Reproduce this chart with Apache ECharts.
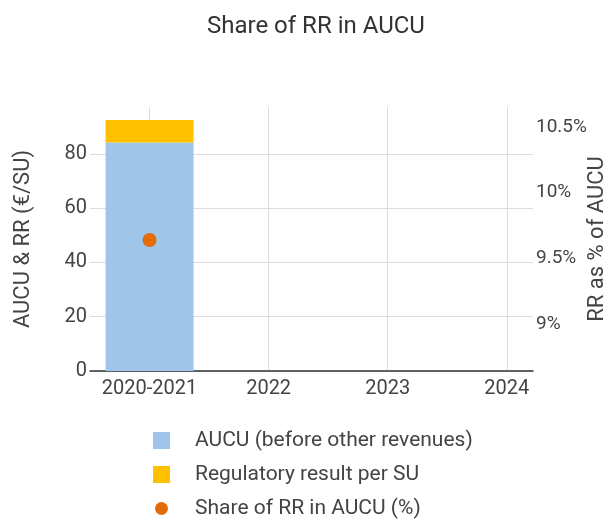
<!DOCTYPE html>
<html>
<head>
<meta charset="utf-8">
<script src="https://cdn.jsdelivr.net/npm/echarts@6/dist/echarts.min.js"></script>
<style>
  html, body { margin: 0; padding: 0; background: #fff; }
  #chart { width: 606px; height: 519px; }
</style>
</head>
<body>
<div id="chart"></div>
<script>
// 数据
var categories = ['2020-2021', '2022', '2023', '2024'];
var aucuValues = [84.2];
var rrValues = [8.3];
var shareValues = [9.64];
var leftTicks = [0, 20, 40, 60, 80];
var rightTicks = [9, 9.5, 10, 10.5];

(function () {
  var myChart = echarts.init(document.getElementById('chart'));
  var font = 'Roboto';
  var idx = categories.map(function (c, i) { return i; });
  // 小圆点图例（留出外框）
  var dotIcon = 'path://M0,0M17,17M8.5,2A6.5,6.5,0,1,1,8.5,15A6.5,6.5,0,1,1,8.5,2Z';

  var option = {
    animation: false,
    textStyle: { fontFamily: font },
    title: {
      text: 'Share of RR in AUCU',
      left: 202,
      top: 10,
      textStyle: { fontFamily: font, fontSize: 24, fontWeight: 'normal', color: '#333' }
    },
    legend: {
      orient: 'vertical',
      left: 153,
      top: 430,
      padding: 0,
      itemWidth: 17,
      itemHeight: 17,
      itemGap: 13,
      textStyle: { fontFamily: font, fontSize: 21, color: '#444', padding: [0, 0, 0, 20] },
      data: [
        { name: 'AUCU (before other revenues)', icon: 'rect' },
        { name: 'Regulatory result per SU', icon: 'rect' },
        { name: 'Share of RR in AUCU (%)', icon: dotIcon }
      ]
    },
    grid: {
      left: 90,
      right: 73,
      top: 107,
      bottom: 148,
      outerBoundsMode: 'none'
    },
    xAxis: {
      type: 'value',
      min: -0.5,
      max: 3.22,
      axisLine: { show: true, lineStyle: { color: '#333', width: 1.5 } },
      axisTick: { show: false, customValues: idx },
      splitLine: { show: true, lineStyle: { color: '#ddd' } },
      axisLabel: {
        customValues: idx,
        color: '#444',
        fontSize: 20,
        margin: 8,
        formatter: function (v) { return categories[Math.round(v)]; }
      }
    },
    yAxis: [
      {
        type: 'value',
        min: 0,
        max: 97.3,
        name: 'AUCU & RR (€/SU)',
        nameLocation: 'middle',
        nameGap: 56,
        nameMoveOverlap: false,
        nameTextStyle: { fontFamily: font, fontSize: 22, color: '#444' },
        axisLine: { show: false },
        axisTick: { show: false, customValues: leftTicks },
        splitLine: { lineStyle: { color: '#ddd' } },
        axisLabel: { customValues: leftTicks, color: '#444', fontSize: 20, margin: 3 }
      },
      {
        type: 'value',
        min: 8.644,
        max: 10.652,
        position: 'right',
        name: 'RR as % of AUCU',
        nameLocation: 'middle',
        nameGap: 53,
        nameMoveOverlap: false,
        nameTextStyle: { fontFamily: font, fontSize: 22, color: '#444' },
        axisLine: { show: false },
        axisTick: { show: false, customValues: rightTicks },
        splitLine: { show: false },
        axisLabel: {
          customValues: rightTicks,
          color: '#444',
          fontSize: 19,
          margin: 3,
          formatter: function (v) { return v + '%'; }
        }
      }
    ],
    series: [
      {
        name: 'AUCU (before other revenues)',
        type: 'bar',
        stack: 'total',
        barWidth: 88,
        encode: { x: 1, y: 0 },
        itemStyle: { color: '#9fc5e8' },
        data: aucuValues.map(function (v, i) { return [v, i]; })
      },
      {
        name: 'Regulatory result per SU',
        type: 'bar',
        stack: 'total',
        barWidth: 88,
        encode: { x: 1, y: 0 },
        itemStyle: { color: '#ffc000' },
        data: rrValues.map(function (v, i) { return [v, i]; })
      },
      {
        name: 'Share of RR in AUCU (%)',
        type: 'scatter',
        yAxisIndex: 1,
        symbolSize: 14,
        itemStyle: { color: '#e36c09', opacity: 1 },
        data: shareValues.map(function (v, i) { return [i, v]; })
      }
    ]
  };
  myChart.setOption(option);
  window.addEventListener('resize', function () {
    myChart.resize();
  });
})();
</script>
</body>
</html>
